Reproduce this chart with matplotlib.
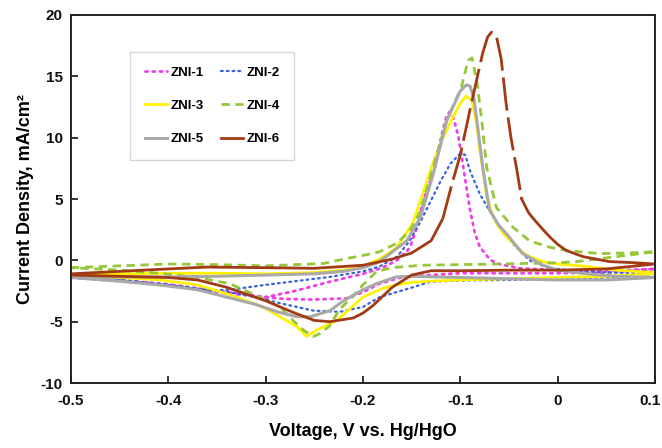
import matplotlib
matplotlib.use("Agg")
import matplotlib.pyplot as plt
import matplotlib.transforms as mtransforms
import numpy as np

plt.rcParams['font.family'] = ['Liberation Sans', 'DejaVu Sans']
plt.rcParams['font.weight'] = 'bold'
plt.rcParams['axes.unicode_minus'] = False

# ---------------- data (V vs. Hg/HgO, mA/cm2) ----------------
labels = ["ZNI-1", "ZNI-2", "ZNI-3", "ZNI-4", "ZNI-5", "ZNI-6"]

# ZNI-1 (magenta dotted)
zni1_v_fwd = [-0.5, -0.45, -0.4, -0.35, -0.3, -0.27, -0.237, -0.2, -0.18, -0.165, -0.152, -0.145, -0.138,
              -0.126, -0.119, -0.114, -0.111, -0.107, -0.102, -0.097, -0.09, -0.085, -0.08, -0.07, -0.063,
              -0.039, 0.0, 0.05, 0.1]
zni1_i_fwd = [-1.4, -1.6, -1.95, -2.5, -3.0, -2.5, -1.8, -1.1, -0.6, 0.0, 1.0, 2.6, 4.9,
              7.6, 10.3, 11.8, 12.1, 11.6, 10.1, 7.6, 4.1, 2.2, 1.1, 0.1, -0.25,
              -0.65, -0.8, -0.85, -0.7]
zni1_v_rev = [0.1, 0.05, 0.0, -0.05, -0.1, -0.131, -0.159, -0.183, -0.2, -0.217, -0.251, -0.28, -0.3,
              -0.35, -0.4, -0.45, -0.5]
zni1_i_rev = [-0.7, -1.0, -1.05, -1.05, -1.05, -1.2, -1.35, -1.9, -2.6, -3.1, -3.2, -3.15, -3.0,
              -2.6, -2.0, -1.7, -1.4]

# ZNI-2 (blue dotted)
zni2_v_fwd = [-0.5, -0.45, -0.4, -0.357, -0.337, -0.3, -0.234, -0.2, -0.183, -0.165, -0.152, -0.14, -0.13,
              -0.12, -0.11, -0.1, -0.095, -0.09, -0.08, -0.066, -0.046, -0.029, -0.01, 0.02, 0.06, 0.1]
zni2_i_fwd = [-1.4, -1.6, -2.0, -2.45, -2.4, -2.0, -1.35, -0.9, -0.5, 0.3, 1.6, 3.3, 4.9,
              6.5, 7.9, 8.7, 8.6, 7.3, 5.4, 3.5, 1.35, 0.0, -0.6, -0.9, -1.0, -1.1]
zni2_v_rev = [0.1, 0.05, 0.0, -0.05, -0.1, -0.131, -0.149, -0.166, -0.183, -0.2, -0.224, -0.251, -0.285,
              -0.31, -0.337, -0.357, -0.4, -0.45, -0.5]
zni2_i_rev = [-1.1, -1.4, -1.5, -1.6, -1.65, -1.75, -2.2, -2.6, -3.0, -3.8, -4.2, -4.1, -3.5,
              -3.0, -2.6, -2.45, -2.0, -1.6, -1.4]

# ZNI-3 (yellow solid)
zni3_v_fwd = [-0.5, -0.45, -0.4, -0.35, -0.3, -0.25, -0.22, -0.2, -0.183, -0.166, -0.149, -0.13, -0.12,
              -0.11, -0.1, -0.094, -0.088, -0.083, -0.08, -0.076, -0.073, -0.068, -0.063, -0.055, -0.046,
              -0.035, -0.029, -0.015, -0.005, 0.03, 0.06, 0.1]
zni3_i_fwd = [-1.2, -1.1, -1.05, -1.05, -1.1, -1.0, -0.8, -0.5, 0.1, 1.0, 3.0, 7.5, 9.6,
              11.3, 12.8, 13.4, 13.0, 11.0, 9.0, 7.0, 5.2, 4.0, 3.0, 2.1, 1.4,
              0.6, 0.3, -0.1, -0.25, -0.5, -0.8, -1.0]
zni3_v_rev = [0.1, 0.05, 0.0, -0.05, -0.1, -0.13, -0.15, -0.166, -0.18, -0.2, -0.227, -0.248, -0.258,
              -0.268, -0.303, -0.337, -0.37, -0.409, -0.45, -0.5]
zni3_i_rev = [-1.1, -1.3, -1.4, -1.5, -1.6, -1.7, -1.8, -2.0, -2.3, -3.0, -4.9, -5.7, -6.2,
              -5.4, -3.8, -2.8, -2.0, -1.6, -1.4, -1.3]

# ZNI-4 (green dashed)
zni4_v_fwd = [-0.5, -0.45, -0.4, -0.35, -0.3, -0.24, -0.22, -0.2, -0.183, -0.165, -0.152, -0.141, -0.128,
              -0.114, -0.099, -0.092, -0.088, -0.083, -0.078, -0.073, -0.063, -0.046, -0.029, -0.01,
              0.009, 0.043, 0.07, 0.1]
zni4_i_fwd = [-0.6, -0.45, -0.3, -0.35, -0.45, -0.25, 0.1, 0.4, 0.7, 1.4, 2.4, 4.0, 7.6,
              11.4, 14.1, 16.3, 16.5, 14.6, 11.4, 7.6, 4.3, 2.7, 1.6, 1.1,
              0.8, 0.55, 0.6, 0.7]
zni4_v_rev = [0.1, 0.08, 0.06, 0.04, 0.02, 0.0, -0.03, -0.06, -0.1, -0.14, -0.17, -0.186, -0.2, -0.21,
              -0.224, -0.235, -0.245, -0.251, -0.261, -0.272, -0.285, -0.306, -0.337, -0.37, -0.41,
              -0.45, -0.5]
zni4_i_rev = [0.7, 0.5, 0.3, 0.1, -0.1, -0.2, -0.25, -0.3, -0.35, -0.4, -0.6, -0.9, -2.0, -2.9,
              -4.0, -5.4, -6.0, -6.2, -5.7, -4.9, -3.8, -3.0, -1.9, -1.4, -1.05,
              -0.8, -0.6]

# ZNI-5 (gray)
zni5_v_fwd = [-0.5, -0.45, -0.4, -0.35, -0.3, -0.25, -0.22, -0.2, -0.185, -0.172, -0.155, -0.141, -0.128,
              -0.114, -0.1, -0.094, -0.09, -0.086, -0.083, -0.077, -0.07, -0.06, -0.053, -0.036, -0.015,
              0.0, 0.03, 0.06, 0.1]
zni5_i_fwd = [-1.4, -1.35, -1.35, -1.3, -1.2, -1.1, -0.9, -0.6, -0.2, 0.55, 1.6, 3.5, 7.0,
              11.4, 13.8, 14.3, 14.2, 13.2, 11.4, 7.6, 4.1, 2.8, 2.2, 0.55, -0.4,
              -0.8, -1.1, -1.3, -1.4]
zni5_v_rev = [0.1, 0.05, 0.0, -0.05, -0.1, -0.15, -0.166, -0.186, -0.2, -0.22, -0.234, -0.254, -0.268,
              -0.288, -0.31, -0.34, -0.37, -0.41, -0.45, -0.5]
zni5_i_rev = [-1.4, -1.6, -1.6, -1.5, -1.4, -1.3, -1.35, -1.9, -2.4, -3.3, -4.1, -4.6, -4.6,
              -4.2, -3.6, -3.0, -2.4, -2.0, -1.7, -1.4]

# ZNI-6 (brown)
zni6_v_fwd = [-0.5, -0.45, -0.4, -0.36, -0.3, -0.25, -0.2, -0.17, -0.15, -0.13, -0.118, -0.108, -0.1,
              -0.09, -0.083, -0.077, -0.072, -0.068, -0.063, -0.058, -0.053, -0.048, -0.042, -0.037,
              -0.03, -0.025, -0.015, -0.008, 0.0, 0.009, 0.026, 0.053, 0.08, 0.1]
zni6_i_fwd = [-1.1, -0.9, -0.7, -0.55, -0.6, -0.65, -0.4, 0.1, 0.6, 1.6, 3.4, 6.4, 8.6,
              12.3, 14.8, 16.9, 18.2, 18.6, 18.3, 16.4, 12.8, 10.0, 7.4, 5.0,
              3.9, 3.4, 2.5, 1.9, 1.3, 0.8, 0.3, -0.1, -0.2, -0.3]
zni6_v_rev = [0.1, 0.05, 0.0, -0.05, -0.1, -0.13, -0.15, -0.17, -0.19, -0.2, -0.21, -0.234, -0.25,
              -0.27, -0.3, -0.34, -0.37, -0.4, -0.45, -0.5]
zni6_i_rev = [-0.3, -0.7, -0.8, -0.8, -0.85, -0.85, -1.2, -2.2, -3.7, -4.3, -4.7, -5.0, -4.9,
              -4.3, -3.3, -2.2, -1.6, -1.4, -1.3, -1.2]

x_ticks = [-0.5, -0.4, -0.3, -0.2, -0.1, 0, 0.1]
x_ticklabels = ["-0.5", "-0.4", "-0.3", "-0.2", "-0.1", "0", "0.1"]
y_ticks = [-10, -5, 0, 5, 10, 15, 20]

# ---------------- figure ----------------
fig = plt.figure(figsize=(6.62, 4.48), dpi=100)
ax = fig.add_axes([71 / 662, 1 - 383 / 448, (655 - 71) / 662, (383 - 15) / 448])

colors = ["#EE3FE8", "#3A63D6", "#FFF200", "#94C83A", "#A9A9A9", "#A23A15"]
styles = [
    dict(lw=2.0, linestyle=(0, (0.8, 1.8)), dash_capstyle='round'),
    dict(lw=1.6, linestyle=(0, (0.8, 1.8)), dash_capstyle='round'),
    dict(lw=2.0, linestyle='-'),
    dict(lw=2.0, linestyle=(0, (3, 2))),
    dict(lw=2.2, linestyle='-'),
    dict(lw=2.0, linestyle='-'),
]

series = [
    (zni1_v_fwd, zni1_i_fwd, zni1_v_rev, zni1_i_rev),
    (zni2_v_fwd, zni2_i_fwd, zni2_v_rev, zni2_i_rev),
    (zni3_v_fwd, zni3_i_fwd, zni3_v_rev, zni3_i_rev),
    (zni4_v_fwd, zni4_i_fwd, zni4_v_rev, zni4_i_rev),
    (zni5_v_fwd, zni5_i_fwd, zni5_v_rev, zni5_i_rev),
]

handles = []
for k, (vf, if_, vr, ir) in enumerate(series):
    v = list(vf) + list(vr)
    i = list(if_) + list(ir)
    h, = ax.plot(v, i, color=colors[k], label=labels[k], **styles[k])
    handles.append(h)

# ZNI-6: solid, but long-dashed around the anodic peak
vf = np.array(zni6_v_fwd)
i0 = int(np.argmax(vf >= -0.118))
i1 = int(np.where(vf <= -0.037)[0][-1])
ax.plot(zni6_v_fwd[:i0 + 1], zni6_i_fwd[:i0 + 1], color=colors[5], lw=2.0, solid_capstyle='butt')
ax.plot(zni6_v_fwd[i0:i1 + 1], zni6_i_fwd[i0:i1 + 1], color=colors[5], lw=2.0,
        linestyle=(0, (12, 2.5)))
ax.plot(zni6_v_fwd[i1:] + zni6_v_rev, zni6_i_fwd[i1:] + zni6_i_rev, color=colors[5], lw=2.0)
h6, = ax.plot([], [], color=colors[5], lw=2.0, label=labels[5])
handles.append(h6)

ax.set_xlim(-0.5, 0.1)
ax.set_ylim(-10, 20)
ax.set_xticks(x_ticks)
ax.set_xticklabels(x_ticklabels)
ax.set_yticks(y_ticks)
ax.tick_params(direction='in', length=5, width=1.2, labelsize=11, colors='#111111')
ax.tick_params(axis='x', pad=8)
ax.tick_params(axis='y', pad=6)
for lab in ax.get_xticklabels() + ax.get_yticklabels():
    lab.set_fontweight('bold')
# last x tick label sits slightly left so it stays inside the figure
last = ax.get_xticklabels()[-1]
last.set_horizontalalignment('right')
last.set_transform(last.get_transform() + mtransforms.ScaledTranslation(6 / 100, 0, fig.dpi_scale_trans))

for s in ax.spines.values():
    s.set_linewidth(1.4)
    s.set_color('#222222')

ax.set_xlabel("Voltage, V vs. Hg/HgO", fontsize=13, fontweight='bold', labelpad=11)
ax.set_ylabel("Current Density, mA/cm²", fontsize=13, fontweight='bold', labelpad=5)

order = [0, 2, 4, 1, 3, 5]
leg = fig.legend(handles=[handles[j] for j in order], labels=[labels[j] for j in order], ncol=2,
                 loc='upper left', bbox_to_anchor=(130 / 662, 1 - 52 / 448), borderaxespad=0,
                 prop={'weight': 'bold', 'size': 9.5}, frameon=True, fancybox=False,
                 edgecolor='#CCCCCC', borderpad=1.1, labelspacing=1.6,
                 handlelength=1.7, handletextpad=0.25, columnspacing=1.3)
leg.get_frame().set_linewidth(1.0)

fig.savefig("out.png", dpi=100)
